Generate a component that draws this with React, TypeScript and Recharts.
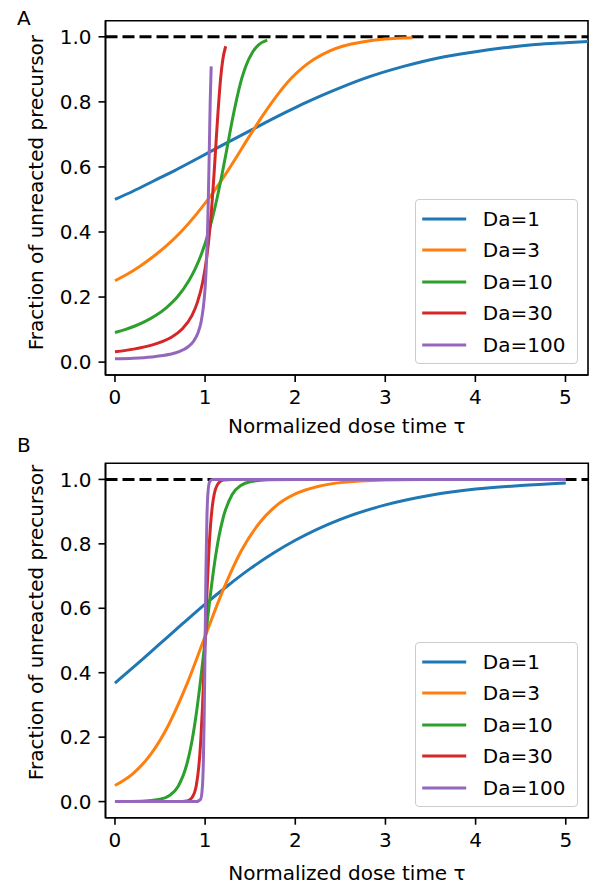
import { Legend, Line, LineChart, ReferenceArea, ReferenceLine, XAxis, YAxis } from "recharts";

const daLabels = ["Da=1", "Da=3", "Da=10", "Da=30", "Da=100"];
const xTicks = [0, 1, 2, 3, 4, 5];
const yTicks = [0, 0.2, 0.4, 0.6, 0.8, 1.0];

// panel A
const tauA1 = [0, 0.205, 0.423, 0.657, 0.911, 1.193, 1.516, 1.904, 2.136, 2.409, 2.747, 3.203, 3.589, 3.946, 4.317, 4.664, 4.999, 5.33];
const fracA1 = [0.5, 0.526, 0.556, 0.588, 0.625, 0.667, 0.714, 0.769, 0.8, 0.833, 0.87, 0.909, 0.935, 0.952, 0.966, 0.976, 0.982, 0.987];
const tauA3 = [0, 0.135, 0.274, 0.419, 0.57, 0.731, 0.905, 1.101, 1.212, 1.337, 1.482, 1.668, 1.816, 1.949, 2.083, 2.205, 2.385, 2.525, 2.761, 2.995, 3.302];
const fracA3 = [0.25, 0.27, 0.294, 0.323, 0.357, 0.4, 0.455, 0.526, 0.571, 0.625, 0.69, 0.769, 0.826, 0.87, 0.905, 0.93, 0.957, 0.971, 0.985, 0.993, 0.997];
const tauA10 = [0, 0.111, 0.222, 0.336, 0.451, 0.569, 0.692, 0.82, 0.889, 0.961, 1.04, 1.13, 1.196, 1.25, 1.3, 1.344, 1.405, 1.451, 1.525, 1.597, 1.69];
const fracA10 = [0.091, 0.1, 0.111, 0.125, 0.143, 0.167, 0.2, 0.25, 0.286, 0.333, 0.4, 0.5, 0.588, 0.667, 0.741, 0.8, 0.87, 0.909, 0.952, 0.976, 0.99];
const tauA30 = [0, 0.207, 0.417, 0.523, 0.631, 0.74, 0.854, 0.913, 0.977, 1.019, 1.05, 1.077, 1.098, 1.125, 1.144, 1.172, 1.197, 1.229];
const fracA30 = [0.032, 0.04, 0.053, 0.063, 0.077, 0.1, 0.143, 0.182, 0.25, 0.323, 0.4, 0.488, 0.571, 0.69, 0.769, 0.87, 0.93, 0.971];
const tauA100 = [0, 0.202, 0.405, 0.609, 0.712, 0.816, 0.869, 0.923, 0.957, 0.98, 0.999, 1.012, 1.027, 1.036, 1.048, 1.057, 1.068];
const fracA100 = [0.01, 0.012, 0.016, 0.024, 0.032, 0.048, 0.063, 0.091, 0.125, 0.167, 0.222, 0.286, 0.4, 0.5, 0.667, 0.8, 0.909];

// panel B
const tauB1 = [0, 0.25, 0.5, 0.75, 1, 1.25, 1.5, 1.75, 2, 2.5, 3, 3.5, 4, 4.5, 5];
const fracB1 = [0.368, 0.428, 0.49, 0.552, 0.613, 0.67, 0.723, 0.77, 0.811, 0.876, 0.921, 0.951, 0.97, 0.981, 0.989];
const tauB3 = [0, 0.2, 0.4, 0.6, 0.8, 1.0, 1.2, 1.4, 1.6, 1.8, 2.0, 2.25, 2.5, 3, 3.5, 4, 5];
const fracB3 = [0.05, 0.087, 0.148, 0.241, 0.366, 0.513, 0.657, 0.778, 0.864, 0.921, 0.955, 0.978, 0.99, 0.998, 0.9995, 1.0, 1.0];
const tauB10 = [0, 0.3, 0.5, 0.6, 0.7, 0.8, 0.85, 0.9, 0.95, 1.0, 1.05, 1.1, 1.15, 1.2, 1.3, 1.4, 1.5, 1.7, 2, 5];
const fracB10 = [0, 0.001, 0.007, 0.018, 0.047, 0.119, 0.182, 0.269, 0.378, 0.5, 0.622, 0.731, 0.818, 0.881, 0.953, 0.982, 0.993, 0.999, 1.0, 1.0];
const tauB30 = [0, 0.7, 0.8, 0.85, 0.9, 0.93, 0.95, 0.97, 1.0, 1.02, 1.04, 1.06, 1.08, 1.1, 1.15, 1.2, 1.3, 5];
const fracB30 = [0, 0.0001, 0.002, 0.011, 0.047, 0.109, 0.182, 0.289, 0.5, 0.646, 0.769, 0.858, 0.917, 0.953, 0.989, 0.998, 1.0, 1.0];
const tauB100 = [0, 0.9, 0.95, 0.97, 0.98, 0.99, 1.0, 1.01, 1.02, 1.03, 1.05, 1.08, 5];
const fracB100 = [0, 0, 0.007, 0.047, 0.119, 0.269, 0.5, 0.731, 0.881, 0.953, 0.993, 1.0, 1.0];

const lineColors = ["#1f77b4", "#ff7f0e", "#2ca02c", "#d62728", "#9467bd"];
const FONT = "'DejaVu Sans', sans-serif";
const tickStyle = { fill: "#000", fontSize: 20, fontFamily: FONT };
const spine = { stroke: "#000", strokeWidth: 1.6 };
const xDomain: [number, number] = [-0.105, 5.25];

const toPoints = (tau: number[], frac: number[]) => tau.map((t, i) => ({ tau: t, frac: frac[i] }));

const seriesA = [
  toPoints(tauA1, fracA1),
  toPoints(tauA3, fracA3),
  toPoints(tauA10, fracA10),
  toPoints(tauA30, fracA30),
  toPoints(tauA100, fracA100),
];
const seriesB = [
  toPoints(tauB1, fracB1),
  toPoints(tauB3, fracB3),
  toPoints(tauB10, fracB10),
  toPoints(tauB30, fracB30),
  toPoints(tauB100, fracB100),
];

function LegendBox() {
  return (
    <div
      style={{
        position: "relative",
        width: 163,
        height: 165,
        boxSizing: "border-box",
        border: "1.5px solid #cccccc",
        borderRadius: 4,
        background: "rgba(255,255,255,0.8)",
        fontFamily: FONT,
        fontSize: 20,
        color: "#000",
      }}
    >
      {daLabels.map((label, i) => (
        <div key={label} style={{ position: "absolute", left: 0, top: 6.4 + i * 31.6, height: 24, width: 160 }}>
          <svg width={60} height={24} style={{ position: "absolute", left: 0, top: 0 }}>
            <line x1={6.2} x2={50.2} y1={12} y2={12} stroke={lineColors[i]} strokeWidth={3} />
          </svg>
          <span style={{ position: "absolute", left: 66.8, top: 0, lineHeight: "24px", whiteSpace: "nowrap" }}>{label}</span>
        </div>
      ))}
    </div>
  );
}

interface PanelProps {
  series: Array<Array<{ tau: number; frac: number }>>;
  yDomain: [number, number];
  margin: { top: number; right: number; bottom: number; left: number };
  xAxisHeight: number;
  yLabelDy: number;
}

function Panel({ series, yDomain, margin, xAxisHeight, yLabelDy }: PanelProps) {
  return (
    <LineChart width={595} height={443} margin={margin}>
      <XAxis
        dataKey="tau"
        type="number"
        domain={xDomain}
        ticks={xTicks}
        allowDataOverflow
        height={xAxisHeight}
        tickSize={7}
        tickMargin={8}
        axisLine={spine}
        tickLine={spine}
        tick={tickStyle}
        label={{
          value: "Normalized dose time τ",
          position: "insideBottom",
          offset: 0,
          fill: "#000",
          fontSize: 20,
          fontFamily: FONT,
        }}
      />
      <YAxis
        type="number"
        domain={yDomain}
        ticks={yTicks}
        allowDataOverflow
        width={105.5}
        tickSize={7}
        tickMargin={7}
        axisLine={spine}
        tickLine={spine}
        tick={tickStyle}
        tickFormatter={(v: number) => v.toFixed(1)}
        label={{
          value: "Fraction of unreacted precursor",
          angle: -90,
          position: "center",
          dx: -16.5,
          dy: yLabelDy,
          fill: "#000",
          fontSize: 20,
          fontFamily: FONT,
        }}
      />
      <ReferenceLine y={1} stroke="#000" strokeWidth={3} strokeDasharray="12 5" />
      {series.map((pts, i) => (
        <Line
          key={daLabels[i]}
          data={pts}
          dataKey="frac"
          name={daLabels[i]}
          type="monotone"
          stroke={lineColors[i]}
          strokeWidth={3}
          dot={false}
          activeDot={false}
          isAnimationActive={false}
        />
      ))}
      {/* frame: top and right spines */}
      <ReferenceArea
        x1={xDomain[0]}
        x2={xDomain[1]}
        y1={yDomain[0]}
        y2={yDomain[1]}
        ifOverflow="visible"
        fill="none"
        fillOpacity={0}
        stroke="#000"
        strokeWidth={1.6}
      />
      <Legend
        layout="vertical"
        align="center"
        verticalAlign="middle"
        wrapperStyle={{ position: "absolute", left: 415, top: 199.3, width: 163, height: 165 }}
        content={() => <LegendBox />}
      />
    </LineChart>
  );
}

const panelLetter = {
  position: "absolute" as const,
  left: 17,
  fontFamily: FONT,
  fontSize: 20,
  lineHeight: "20px",
  color: "#000",
};

export default function App() {
  return (
    <div style={{ position: "absolute", left: 0, top: 0, width: 595, height: 886, background: "#fff", overflow: "hidden" }}>
      <div style={{ position: "absolute", left: 0, top: 0 }}>
        <Panel
          series={seriesA}
          yDomain={[-0.0396, 1.0495]}
          margin={{ top: 20.7, right: 7, bottom: 10, left: 0 }}
          xAxisHeight={58}
          yLabelDy={-5.3}
        />
      </div>
      <div style={{ position: "absolute", left: 0, top: 443 }}>
        <Panel
          series={seriesB}
          yDomain={[-0.05, 1.05]}
          margin={{ top: 20.3, right: 6.7, bottom: 6, left: 0 }}
          xAxisHeight={62.3}
          yLabelDy={-18}
        />
      </div>
      <div style={{ ...panelLetter, top: 8.1 }}>A</div>
      <div style={{ ...panelLetter, top: 434.8 }}>B</div>
    </div>
  );
}
